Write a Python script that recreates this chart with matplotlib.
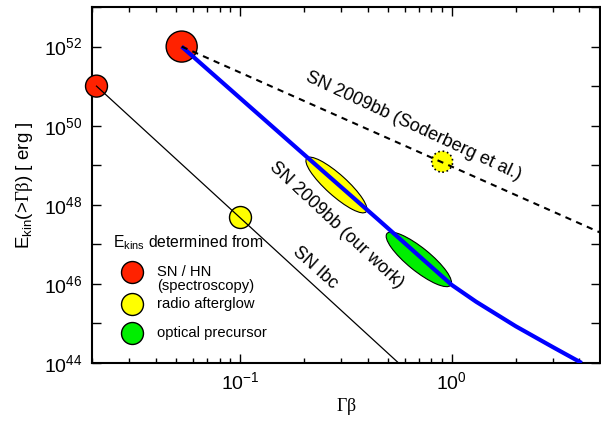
import numpy as np
import matplotlib
matplotlib.use('Agg')
import matplotlib.pyplot as plt
from matplotlib.patches import Ellipse
from matplotlib.transforms import ScaledTranslation
from matplotlib.ticker import FixedLocator, NullFormatter, LogFormatterSciNotation

plt.rcParams['font.family'] = ['Liberation Sans', 'DejaVu Sans']
plt.rcParams['mathtext.fontset'] = 'custom'
plt.rcParams['mathtext.rm'] = 'Liberation Sans'
plt.rcParams['mathtext.it'] = 'Liberation Sans:italic'
plt.rcParams['mathtext.sf'] = 'Liberation Serif'

# --- dados (Gamma*beta, log10 E) ---
ibc_gb = [0.021, 0.56]
ibc_logE = [51.0, 44.0]

ours_gb = [0.053, 0.19, 0.45, 0.8, 1.0, 1.3, 2.0, 3.0, 4.1]
ours_logE = [52.0, 49.38, 47.62, 46.43, 45.97, 45.55, 44.93, 44.40, 44.0]

sod_gb = [0.053, 5.0]
sod_logE = [52.0, 47.30]

spec_gb = [0.021, 0.053]
spec_logE = [51.0, 52.0]
radio_gb = [0.1]
radio_logE = [47.7]
sod_radio_gb = [0.9]
sod_radio_logE = [49.09]

ell_radio_gb, ell_radio_logE = 0.285, 48.50
ell_opt_gb, ell_opt_logE = 0.698, 46.62

legend_labels = ['SN / HN\n(spectroscopy)', 'radio afterglow', 'optical precursor']
legend_colors = ['#ff2200', '#ffff00', '#00ee00']

E = lambda v: 10.0 ** np.array(v)

fig = plt.figure(figsize=(6.01, 4.25), dpi=100)
ax = fig.add_axes([0.1531, 0.1459, 0.8452, 0.8376])
ax.set_xscale('log')
ax.set_yscale('log')
ax.set_xlim(0.02, 5.0)
ax.set_ylim(1e44, 1e53)

# linhas
ax.plot(ibc_gb, E(ibc_logE), color='black', lw=0.9, zorder=4)
ax.plot(ours_gb, E(ours_logE), color='#0000ff', lw=3, zorder=4, solid_capstyle='butt')
ax.plot(sod_gb, E(sod_logE), color='black', lw=1.5, dashes=(3, 2.6), zorder=4)

# elipses (tamanho fixo em polegadas)
for gb, le, col, w, h, ang in [(ell_radio_gb, ell_radio_logE, legend_colors[1], 0.80, 0.21, -42),
                               (ell_opt_gb, ell_opt_logE, legend_colors[2], 0.82, 0.23, -39)]:
    tr = fig.dpi_scale_trans + ScaledTranslation(gb, 10.0 ** le, ax.transData)
    ax.add_patch(Ellipse((0, 0), w, h, angle=ang, transform=tr, facecolor=col,
                         edgecolor='black', lw=0.8, zorder=3))

# circulos
ax.scatter(spec_gb, E(spec_logE), s=[250, 500], c=legend_colors[0], edgecolors='black',
           linewidths=1, zorder=2.6, clip_on=False)
ax.scatter(radio_gb, E(radio_logE), s=250, c=legend_colors[1], edgecolors='black', linewidths=1, zorder=2.6)
ax.scatter(sod_radio_gb, E(sod_radio_logE), s=228, c=legend_colors[1], edgecolors='black',
           linewidths=1.2, linestyle=':', zorder=2.6)

# textos
ax.text(0.655, 1e50, 'SN 2009bb (Soderberg et al.)', rotation=-25, fontsize=13,
        ha='center', va='center', rotation_mode='anchor')
ax.text(0.284, 10 ** 47.49, 'SN 2009bb (our work)', rotation=-43, fontsize=13,
        ha='center', va='center', rotation_mode='anchor')
ax.text(0.226, 10 ** 46.4, 'SN Ibc', rotation=-42, fontsize=13,
        ha='center', va='center', rotation_mode='anchor')

# legenda manual
ax.text(0.041, 0.337, r'E$_{\rm kins}$ determined from', transform=ax.transAxes,
        fontsize=11.3, ha='left', va='center')
for yy, lab, col in zip([0.256, 0.166, 0.084], legend_labels, legend_colors):
    ax.scatter([0.079], [yy], s=250, c=col, edgecolors='black', linewidths=1,
               transform=ax.transAxes, zorder=2.6)
    ax.text(0.128, yy - (0.02 if '\n' in lab else 0), lab, transform=ax.transAxes,
            fontsize=10.6, ha='left', va='center', linespacing=0.95)

# eixos
ax.yaxis.set_major_locator(FixedLocator([1e44, 1e46, 1e48, 1e50, 1e52]))
ax.yaxis.set_minor_locator(FixedLocator([1e45, 1e47, 1e49, 1e51, 1e53]))
ax.yaxis.set_major_formatter(LogFormatterSciNotation())
ax.yaxis.set_minor_formatter(NullFormatter())
ax.tick_params(which='both', direction='in', top=True, right=True, width=1, labelsize=14)
ax.tick_params(axis='y', which='both', length=6.5, pad=7)
ax.tick_params(axis='x', which='major', length=6.5, pad=6)
ax.tick_params(axis='x', which='minor', length=3.6)
for s in ax.spines.values():
    s.set_linewidth(1.5)

ax.set_xlabel(r'$\mathsf{\Gamma\beta}$', fontsize=13, labelpad=2)
ax.set_ylabel(r'E$_{\rm kin}$(>$\mathsf{\Gamma\beta}$) [ erg ]', fontsize=13.5, labelpad=6)

plt.savefig('out.png', dpi=100)
